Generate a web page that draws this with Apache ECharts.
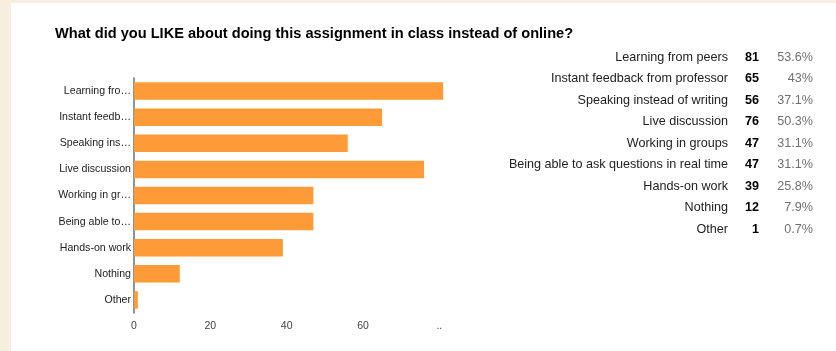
<!DOCTYPE html>
<html>
<head>
<meta charset="utf-8">
<script src="https://cdn.jsdelivr.net/npm/echarts@6/dist/echarts.min.js"></script>
<style>
  html, body { margin: 0; padding: 0; background: #f6efdf; }
  #panel { position: absolute; left: 11px; top: 3px; right: 0; bottom: 0; background: #ffffff; }
  #chart { position: absolute; left: 0; top: 0; width: 836px; height: 351px; }
</style>
</head>
<body>
<div id="panel"></div>
<div id="chart"></div>
<script>
// Survey answers: full answer text, shortened axis labels, counts and shares
const answers = [
  'Learning from peers',
  'Instant feedback from professor',
  'Speaking instead of writing',
  'Live discussion',
  'Working in groups',
  'Being able to ask questions in real time',
  'Hands-on work',
  'Nothing',
  'Other'
];
const axisNames = [
  'Learning fro…',
  'Instant feedb…',
  'Speaking ins…',
  'Live discussion',
  'Working in gr…',
  'Being able to…',
  'Hands-on work',
  'Nothing',
  'Other'
];
const counts = [81, 65, 56, 76, 47, 47, 39, 12, 1];
const shares = ['53.6%', '43%', '37.1%', '50.3%', '31.1%', '31.1%', '25.8%', '7.9%', '0.7%'];
const xTicks = { 0: '0', 20: '20', 40: '40', 60: '60', 80: '..' };

const FONT = 'Liberation Sans, Arial, Helvetica, sans-serif';

const chart = echarts.init(document.getElementById('chart'), null, { renderer: 'canvas' });

// one label-only category axis per table column, right-aligned at its own offset
const tableAxis = (data, offset, style) => ({
  type: 'category',
  gridIndex: 1,
  inverse: true,
  position: 'left',
  offset: offset,
  data: data,
  axisLine: { show: false },
  axisTick: { show: false },
  axisLabel: Object.assign({ margin: 0, fontFamily: FONT, fontSize: 12.6 }, style)
});

chart.setOption({
  backgroundColor: 'transparent',
  animation: false,
  title: {
    text: 'What did you LIKE about doing this assignment in class instead of online?',
    left: 55,
    top: 26,
    padding: 0,
    textStyle: { fontFamily: FONT, fontSize: 14.6, fontWeight: 'bold', color: '#000' }
  },
  grid: [
    { left: 134, top: 78, height: 235, width: 381.7, containLabel: false },
    { left: 820, top: 46.5, height: 193.5, width: 10, containLabel: false }
  ],
  xAxis: [
    {
      type: 'value',
      gridIndex: 0,
      min: 0,
      max: 100,
      interval: 20,
      axisLine: { show: false },
      axisTick: { show: false },
      splitLine: { show: false },
      axisLabel: {
        margin: 8,
        fontFamily: FONT,
        fontSize: 10.5,
        color: '#444',
        formatter: v => (v in xTicks ? xTicks[v] : '')
      }
    },
    { type: 'value', gridIndex: 1, show: false }
  ],
  yAxis: [
    {
      type: 'category',
      gridIndex: 0,
      inverse: true,
      data: answers,
      axisLine: { show: true, lineStyle: { color: '#6e6e6e', width: 1.5 } },
      axisTick: { show: false },
      axisLabel: {
        margin: 3,
        fontFamily: FONT,
        fontSize: 10.6,
        color: '#222',
        formatter: (v, i) => axisNames[i]
      }
    },
    tableAxis(answers, 92, { color: '#222' }),
    tableAxis(counts.map(String), 61, { color: '#000', fontWeight: 'bold' }),
    tableAxis(shares, 7, { color: '#707070' })
  ],
  series: [
    {
      type: 'bar',
      xAxisIndex: 0,
      yAxisIndex: 0,
      data: counts,
      barCategoryGap: '33%',
      itemStyle: { color: '#fe9a37' },
      silent: true
    }
  ]
});
</script>
</body>
</html>
